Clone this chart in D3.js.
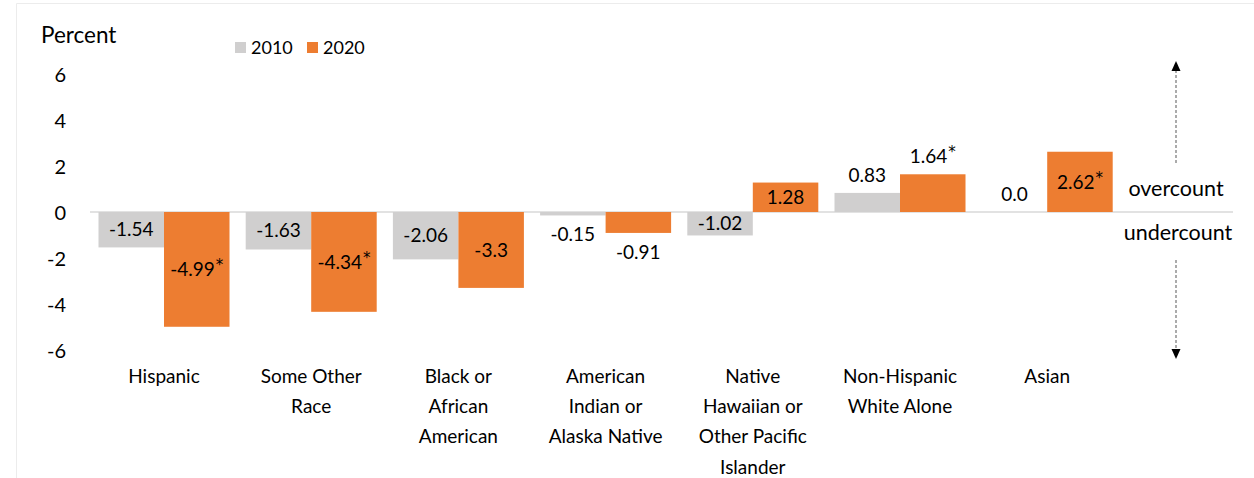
<!DOCTYPE html>
<html>
<head>
<meta charset="utf-8">
<script src="https://cdn.jsdelivr.net/npm/d3@7"></script>
<style>
  html, body { margin: 0; padding: 0; background: #fff; }
  svg { display: block; font-family: Lato, "Open Sans", sans-serif; }
</style>
</head>
<body>
<svg id="chart" width="1254" height="478"></svg>
<script>
// Net coverage error by group, percent
const categories = [
  ["Hispanic"],
  ["Some Other", "Race"],
  ["Black or", "African", "American"],
  ["American", "Indian or", "Alaska Native"],
  ["Native", "Hawaiian or", "Other Pacific", "Islander"],
  ["Non-Hispanic", "White Alone"],
  ["Asian"]
];
const years = ["2010", "2020"];
const values2010 = [-1.54, -1.63, -2.06, -0.15, -1.02, 0.83, 0.0];
const values2020 = [-4.99, -4.34, -3.3, -0.91, 1.28, 1.64, 2.62];
const labels2010 = ["-1.54", "-1.63", "-2.06", "-0.15", "-1.02", "0.83", "0.0"];
const labels2020 = ["-4.99", "-4.34", "-3.3", "-0.91", "1.28", "1.64", "2.62"];
const significant2020 = [true, true, false, false, false, true, true];
const yTicks = [6, 4, 2, 0, -2, -4, -6];
const colors = { "2010": "#d0cfcf", "2020": "#ed7d31" };

// where each value label sits: inside the bar ("in") or beyond its end ("out")
const place2010 = ["in", "in", "in", "out", "in", "out", "out"];
const place2020 = ["in", "in", "in", "out", "in", "out", "in"];

const svg = d3.select("#chart");

// faint frame
svg.append("path")
  .attr("d", "M16.5,478 V3.5 H1254")
  .attr("fill", "none").attr("stroke", "#ececec").attr("stroke-width", 1);

const y = d3.scaleLinear().domain([-6, 6]).range([350, 74]);
const x0 = d3.scaleBand()
  .domain(d3.range(categories.length))
  .range([90.4, 1120.8])
  .paddingInner(0.11).paddingOuter(0.055);
const x1 = d3.scaleBand().domain(years).range([0, x0.bandwidth()]);

// y axis labels
const yAxis = d3.axisLeft(y).tickValues(yTicks).tickSize(0).tickPadding(0)
  .tickFormat(d => d3.format("d")(d).replace("−", "-"));
const gy = svg.append("g").attr("transform", "translate(66,0)").call(yAxis);
gy.select(".domain").remove();
gy.selectAll("text")
  .attr("font-family", "Lato, 'Open Sans', sans-serif")
  .attr("font-size", 20).attr("fill", "#000").attr("dy", "0.35em");

svg.append("text").attr("x", 41).attr("y", 43)
  .attr("font-size", 22.5).attr("fill", "#000").text("Percent");

// legend
const legend = svg.append("g");
years.forEach((yr, i) => {
  const lx = 235 + i * 72;
  legend.append("rect").attr("x", lx).attr("y", 42).attr("width", 11).attr("height", 11)
    .attr("fill", colors[yr]);
  legend.append("text").attr("x", lx + 16).attr("y", 54)
    .attr("font-size", 18).attr("fill", "#000").text(yr);
});

// zero line
svg.append("line")
  .attr("x1", 90).attr("x2", 1233).attr("y1", y(0)).attr("y2", y(0))
  .attr("stroke", "#d9d9d9").attr("stroke-width", 1.5);

// bars
const rows = categories.map((c, i) => ({
  i,
  bars: [
    { year: "2010", v: values2010[i], label: labels2010[i], star: false, place: place2010[i] },
    { year: "2020", v: values2020[i], label: labels2020[i], star: significant2020[i], place: place2020[i] }
  ]
}));

const groups = svg.selectAll("g.cat").data(rows).join("g")
  .attr("class", "cat")
  .attr("transform", d => `translate(${x0(d.i)},0)`);

groups.selectAll("rect").data(d => d.bars).join("rect")
  .attr("x", d => x1(d.year))
  .attr("width", x1.bandwidth())
  .attr("y", d => y(Math.max(0, d.v)))
  .attr("height", d => Math.abs(y(d.v) - y(0)))
  .attr("fill", d => colors[d.year]);

// value labels
const lbl = groups.selectAll("text.val").data(d => d.bars).join("text")
  .attr("class", "val")
  .attr("text-anchor", "middle")
  .attr("font-size", 19).attr("fill", "#000")
  .attr("x", d => x1(d.year) + x1.bandwidth() / 2)
  .attr("y", d => {
    if (d.place === "in") return (y(d.v) + y(0)) / 2;
    return d.v >= 0 ? y(d.v) - 18 : y(d.v) + 19;
  })
  .attr("dy", "0.35em");
lbl.append("tspan").text(d => d.label);
lbl.filter(d => d.star).append("tspan")
  .attr("font-family", "'DejaVu Sans', sans-serif")
  .attr("font-size", 15).attr("dy", "-0.4em").attr("dx", 1).text("*");

// category labels
groups.append("text")
  .attr("text-anchor", "middle")
  .attr("font-size", 19).attr("fill", "#000")
  .attr("x", x0.bandwidth() / 2)
  .selectAll("tspan").data(d => categories[d.i]).join("tspan")
  .attr("x", x0.bandwidth() / 2)
  .attr("y", (d, k) => 376 + k * 30.3)
  .attr("dy", "0.35em")
  .text(d => d);

// overcount / undercount annotation
const ax = 1176;
svg.append("text").attr("x", ax).attr("y", y(0) - 24).attr("dy", "0.35em")
  .attr("text-anchor", "middle").attr("font-size", 21.5).attr("fill", "#000").text("overcount");
svg.append("text").attr("x", ax + 2).attr("y", y(0) + 20).attr("dy", "0.35em")
  .attr("text-anchor", "middle").attr("font-size", 21.5).attr("fill", "#000").text("undercount");
svg.append("line").attr("x1", ax).attr("x2", ax).attr("y1", 70).attr("y2", 163)
  .attr("stroke", "#7f7f7f").attr("stroke-width", 1.3).attr("stroke-dasharray", "3,2");
svg.append("line").attr("x1", ax).attr("x2", ax).attr("y1", 260).attr("y2", 350)
  .attr("stroke", "#7f7f7f").attr("stroke-width", 1.3).attr("stroke-dasharray", "3,2");
svg.append("path").attr("d", `M${ax},61 L${ax - 4.5},71 L${ax + 4.5},71 Z`).attr("fill", "#000");
svg.append("path").attr("d", `M${ax},359 L${ax - 4.5},349 L${ax + 4.5},349 Z`).attr("fill", "#000");
</script>
</body>
</html>
